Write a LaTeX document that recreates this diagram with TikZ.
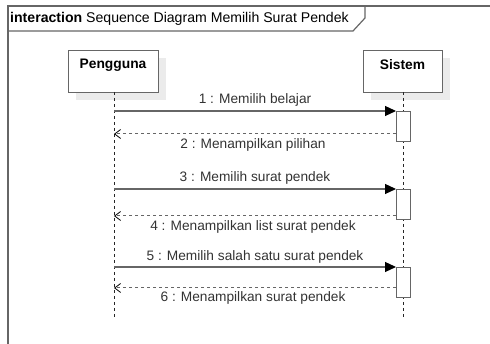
\documentclass[tikz,border=0pt]{standalone}
\usepackage{fontspec}
\setmainfont{Liberation Sans}
\usetikzlibrary{arrows.meta}
\definecolor{lc}{HTML}{666666}
\definecolor{tc}{HTML}{333333}
\tikzset{
  lifebox/.style={draw=lc,line width=1.2pt,fill=white,minimum width=#1,minimum height=42pt,inner sep=0pt,anchor=north west},
  shadowbox/.style={fill=black!8,draw=none,minimum width=#1,minimum height=42pt,inner sep=0pt,anchor=north west},
  boxlabel/.style={font=\fontsize{13.8}{15}\selectfont\bfseries,text=black,inner sep=0pt},
  lifeline/.style={draw=black!85,line width=0.8pt,dash pattern=on 3pt off 3pt},
  actbox/.style={draw=lc,line width=1.2pt,fill=white,minimum width=14pt,minimum height=30pt,inner sep=0pt,anchor=north west},
  callmsg/.style={draw=lc,line width=1.2pt,-{Triangle[length=11pt,width=10pt,fill=black,color=black]}},
  retmsg/.style={draw=lc,line width=1pt,dash pattern=on 3pt off 3pt,-{Straight Barb[length=6pt,width=9pt,color=black,line width=0.8pt]}},
  msglabel/.style={font=\fontsize{13.7}{15}\selectfont,text=tc,inner sep=0pt},
  framepart/.style={draw=lc,line width=1.2pt}
}
\begin{document}
\begin{tikzpicture}[x=1pt,y=-1pt]
\useasboundingbox (0,0) rectangle (490,344);
% frame
\draw[framepart] (8,344) -- (8,6) -- (490,6);
\draw[framepart] (8,31) -- (353,31) -- (365,18) -- (365,6);
\node[anchor=west,inner sep=0pt,font=\fontsize{14.1}{15}\selectfont,text=black] (title) at (10,18.5) {\textbf{interaction} Sequence Diagram Memilih Surat Pendek};
% lifeline heads
\node[shadowbox=90pt] (ps) at (76,58) {};
\node[lifebox=90pt] (p) at (68,50) {};
\node[boxlabel] (pl) at (113,65) {Pengguna};
\node[shadowbox=79pt] (ss) at (371,58) {};
\node[lifebox=79pt] (s) at (363,50) {};
\node[boxlabel] (sl) at (402.5,65) {Sistem};
% lifelines
\coordinate (pend) at (114,318);
\coordinate (send) at (403,318);
\draw[lifeline] (114,92) -- (pend);
\draw[lifeline] (403,92) -- (send);
% activations
\node[actbox] (a1) at (396,111) {};
\node[actbox] (a2) at (396,189) {};
\node[actbox] (a3) at (396,267) {};
% message points on user lifeline
\coordinate (u1) at (114,111);
\coordinate (u2) at (114,134);
\coordinate (u3) at (114,189);
\coordinate (u4) at (114,216);
\coordinate (u5) at (114,267);
\coordinate (u6) at (114,288);
\coordinate (r2) at (396,134);
\coordinate (r4) at (396,216);
\coordinate (r6) at (396,288);
\draw[callmsg] (u1) -- (a1.north west);
\draw[retmsg] (r2) -- (u2);
\draw[callmsg] (u3) -- (a2.north west);
\draw[retmsg] (r4) -- (u4);
\draw[callmsg] (u5) -- (a3.north west);
\draw[retmsg] (r6) -- (u6);
% labels
\node[msglabel] (m1) at (255,100) {1 : Memilih belajar};
\node[msglabel] (m2) at (253,145) {2 : Menampilkan pilihan};
\node[msglabel] (m3) at (255,177.5) {3 : Memilih surat pendek};
\node[msglabel] (m4) at (253,227) {4 : Menampilkan list surat pendek};
\node[msglabel] (m5) at (255,257) {5 : Memilih salah satu surat pendek};
\node[msglabel] (m6) at (253,298) {6 : Menampilkan surat pendek};
\end{tikzpicture}
\end{document}
